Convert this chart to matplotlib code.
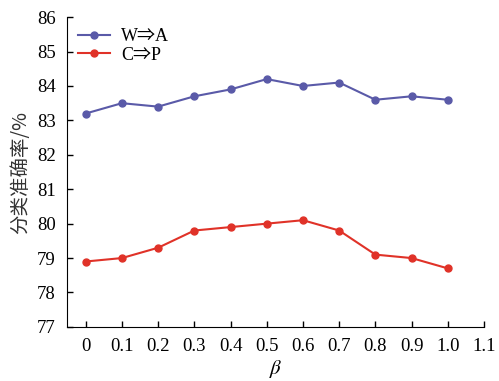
import numpy as np
import matplotlib
matplotlib.use('Agg')
import matplotlib.pyplot as plt

beta = [0, 0.1, 0.2, 0.3, 0.4, 0.5, 0.6, 0.7, 0.8, 0.9, 1.0]
wa = [83.2, 83.5, 83.4, 83.7, 83.9, 84.2, 84.0, 84.1, 83.6, 83.7, 83.6]
cp = [78.9, 79.0, 79.3, 79.8, 79.9, 80.0, 80.1, 79.8, 79.1, 79.0, 78.7]
xticks = [0, 0.1, 0.2, 0.3, 0.4, 0.5, 0.6, 0.7, 0.8, 0.9, 1.0, 1.1]
xlabels = ['0', '0.1', '0.2', '0.3', '0.4', '0.5', '0.6', '0.7', '0.8', '0.9', '1.0', '1.1']
yticks = list(range(77, 87))

plt.rcParams['font.family'] = ['Liberation Serif', 'Noto Sans CJK SC']
plt.rcParams['mathtext.fontset'] = 'stix'

fig = plt.figure(figsize=(4.99, 3.81), dpi=100)
ax = fig.add_axes([0.134, 0.142, 0.836, 0.813])

ax.plot(beta, wa, '-o', color='#5a5aa8', lw=1.5, ms=5, label='W⇒A')
ax.plot(beta, cp, '-o', color='#e03228', lw=1.5, ms=5, label='C⇒P')

ax.set_xlim(-0.052, 1.1)
ax.set_ylim(77, 86)
ax.set_xticks(xticks)
ax.set_xticklabels(xlabels)
ax.set_yticks(yticks)
ax.tick_params(direction='in', labelsize=13.5, length=4, width=1, pad=8)
ax.spines['top'].set_visible(False)
ax.spines['right'].set_visible(False)
ax.set_xlabel(r'$\beta$', fontsize=15, labelpad=2)
ax.set_ylabel('分类准确率/%', fontsize=14, family=['Noto Sans CJK SC', 'Liberation Serif'],
              labelpad=4, color='#333333')

leg = ax.legend(loc='upper left', frameon=False, fontsize=13, handlelength=1.8,
                borderaxespad=0.2, labelspacing=0.1, handletextpad=0.6)

fig.savefig('out.png', dpi=100)
